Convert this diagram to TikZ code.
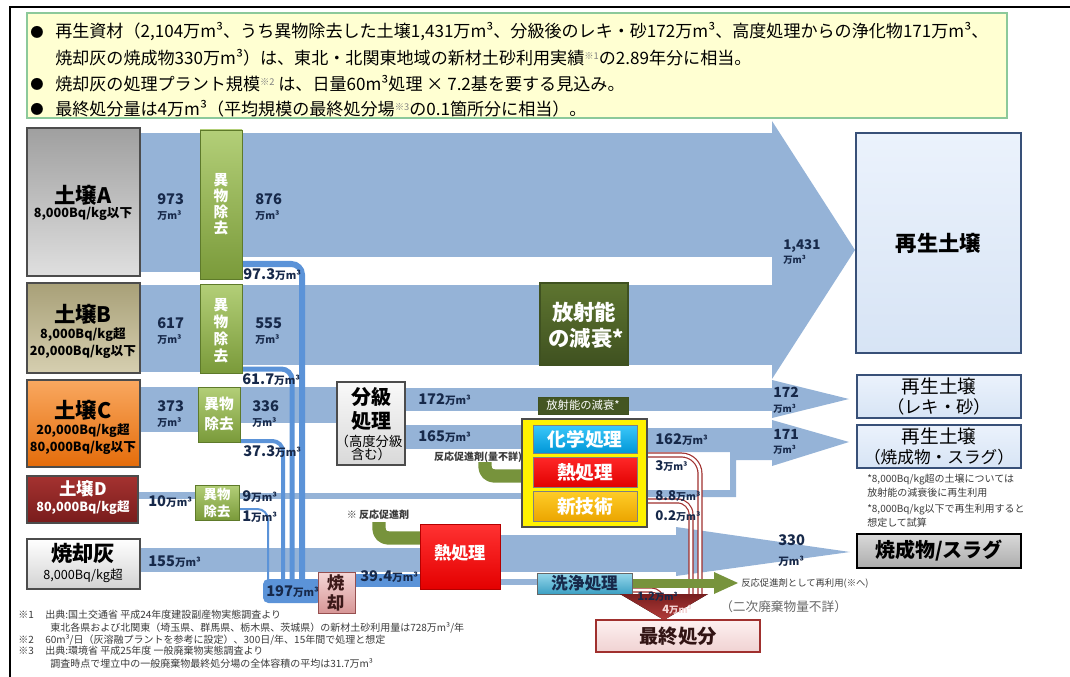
\documentclass[tikz,border=0pt]{standalone}
\usepackage{fontspec}
\setmainfont{Noto Sans CJK JP}
\usetikzlibrary{fit}
\definecolor{flow}{HTML}{95B3D7}
\definecolor{flowd}{HTML}{5B93D8}
\definecolor{navy}{HTML}{17294A}
\definecolor{grnL}{HTML}{B3CF78}
\definecolor{grnD}{HTML}{7A9A3A}
\definecolor{grnB}{HTML}{5E7A2A}
\definecolor{reag}{HTML}{77933C}
\definecolor{oliveL}{HTML}{5E7530}
\definecolor{oliveD}{HTML}{3F5120}
\definecolor{dred}{HTML}{A0302E}
\definecolor{infoY}{HTML}{FFFFD2}
\definecolor{infoB}{HTML}{8CC99A}
\definecolor{notegray}{HTML}{3A3A3A}
\definecolor{outB}{HTML}{385078}
\newcommand{\fs}[1]{\fontsize{#1}{#1}\selectfont}
\newcommand{\sref}[1]{\raisebox{0.55ex}{\fs{7}\color{gray}#1}}
\newcommand{\um}[1]{{\fs{#1}万m³}}
\begin{document}
\begin{tikzpicture}[x=0.75pt,y=-0.75pt,
  box/.style={inner sep=0pt},
  txt/.style={inner sep=0pt},
  band/.style={fill=flow},
  vl/.style={draw=flowd, rounded corners=8},
  gbox/.style={box, draw=grnB, line width=0.6pt, top color=grnL, bottom color=grnD},
  gt/.style={txt, text=white, font=\fs{11}\bfseries},
  srcb/.style={box, draw=gray!60!black, line width=0.8pt},
  num/.style={anchor=west, inner sep=0pt, text=navy, font=\bfseries},
  stk/.style={anchor=west, inner sep=0pt, text=navy, align=left, font=\bfseries},
  reagent/.style={draw=reag, line join=round, rounded corners=7},
  redl/.style={draw=dred, double=white, line width=0.9pt, double distance=2pt},
  note/.style={anchor=west, inner sep=0pt, text=notegray, font=\fs{7.5}},
  info/.style={anchor=west, inner sep=0pt, font=\fs{12.8}},
  outb/.style={box, draw=outB, line width=1.5pt, top color={rgb,255:red,235;green,242;blue,252}, bottom color={rgb,255:red,215;green,228;blue,245}},
]
\useasboundingbox (0,0) rectangle (1070,677);
\draw[line width=2.2pt] (1070,7) -- (10,7) -- (10,677);

% ---------- info box
\node[box, fit={(27,13)(1007,118)}, draw=infoB, fill=infoY, line width=0.8pt] (info) {};
\node[txt, font=\fs{10}] (b1) at (37,32) {●};
\node[info] (t1) at (55,32) {再生資材（2,104万m³、うち異物除去した土壌1,431万m³、分級後のレキ・砂172万m³、高度処理からの浄化物171万m³、};
\node[info] (t2) at (55,58) {焼却灰の焼成物330万m³）は、東北・北関東地域の新材土砂利用実績\sref{※1}の2.89年分に相当。};
\node[txt, font=\fs{10}] (b3) at (37,84) {●};
\node[info] (t3) at (55,84) {焼却灰の処理プラント規模\sref{※2} は、日量60m³処理 × 7.2基を要する見込み。};
\node[txt, font=\fs{10}] (b4) at (37,109) {●};
\node[info] (t4) at (55,109) {最終処分量は4万m³（平均規模の最終処分場\sref{※3}の0.1箇所分に相当）。};

% ---------- bands
\fill[band] (140,133) rectangle (200,272);
\fill[band] (242,133) rectangle (772,257);
\fill[band] (140,285) rectangle (200,372);
\fill[band] (242,285) rectangle (772,365);
\fill[band] (772,121) -- (855,250) -- (772,379) -- cycle;
\fill[band] (140,387) rectangle (198,432);
\fill[band] (240,387) rectangle (337,423);
\fill[band] (405,388) rectangle (772,411);
\fill[band] (772,380) -- (849,399) -- (772,418) -- cycle;
\fill[band] (405,425) rectangle (523,449);
\fill[band] (647,428) -- (772,428) -- (772,460) -- (736,460) -- (736,497) -- (647,497) -- (647,490) -- (730,490) -- (730,452) -- (647,452) -- cycle;
\fill[band] (772,420) -- (849,442) -- (772,466) -- cycle;
\fill[band] (138,492) rectangle (195,499);
\fill[band] (239,493) rectangle (523,499);
\fill[band] (140,548) rectangle (420,572);
\fill[band] (500,535) rectangle (676,572);
\fill[band] (676,527) -- (850,552) -- (676,576) -- cycle;
\fill[band] (500,579) rectangle (537,585);

% ---------- removed-matter lines
\draw[vl, line width=4.5pt] (242,264) -- (302,264) -- (302,582);
\draw[vl, line width=3.75pt] (242,369) -- (292,369) -- (292,582);
\draw[vl, line width=3pt] (240,441) -- (283,441) -- (283,582);
\draw[vl, line width=1.5pt] (239,509) -- (268,509) -- (268,582);
\node[box, fit={(263,579)(322,603)}, fill=flowd, rounded corners=4] (b197) {};
\fill[flowd] (352,574) rectangle (420,587);

% ---------- reagents, residues
\draw[reagent, line width=10pt] (485,462) -- (485,476) -- (524,476);
\draw[reagent, line width=10pt] (379,522) -- (379,538) -- (421,538);
\draw[redl, rounded corners=14] (647,455) -- (700,455) -- (700,596);
\draw[redl, rounded corners=10] (647,501) -- (691,501) -- (691,596);
\draw[redl, rounded corners=8] (632,590) -- (662,590) -- (662,598);
\fill[reag] (632,579) rectangle (716,588);
\fill[reag] (714,572) -- (738,583) -- (714,594) -- cycle;

% ---------- sources
\node[srcb, fit={(27,128)(140,276)}, top color=gray!75, bottom color=gray!25] (sA) {};
\node[txt, font=\fs{16}\bfseries] (sA1) at (83,195) {土壌A};
\node[txt, font=\fs{9.5}\bfseries] (sA2) at (83,214) {8,000Bq/kg以下};
\node[srcb, fit={(27,283)(140,373)}, top color={rgb,255:red,168;green,160;blue,120}, bottom color={rgb,255:red,214;green,207;blue,176}] (sB) {};
\node[txt, font=\fs{16}\bfseries] (sB1) at (83,314) {土壌B};
\node[txt, font=\fs{9.5}\bfseries] (sB2) at (83,335) {8,000Bq/kg超};
\node[txt, font=\fs{9.5}\bfseries] (sB3) at (83,352) {20,000Bq/kg以下};
\node[srcb, fit={(27,380)(140,467)}, top color={rgb,255:red,249;green,168;blue,96}, bottom color={rgb,255:red,228;green,108;blue,10}] (sC) {};
\node[txt, font=\fs{16}\bfseries] (sC1) at (83,410) {土壌C};
\node[txt, font=\fs{9.5}\bfseries] (sC2) at (83,431) {20,000Bq/kg超};
\node[txt, font=\fs{9.5}\bfseries] (sC3) at (83,448) {80,000Bq/kg以下};
\node[srcb, fit={(27,476)(138,523)}, top color={rgb,255:red,165;green,50;blue,48}, bottom color={rgb,255:red,120;green,28;blue,28}] (sD) {};
\node[txt, text=white, font=\fs{13}\bfseries] (sD1) at (83,489) {土壌D};
\node[txt, text=white, font=\fs{9.5}\bfseries] (sD2) at (83,508) {80,000Bq/kg超};
\node[srcb, fit={(27,539)(140,589)}, top color=white, bottom color=gray!35] (sE) {};
\node[txt, font=\fs{16}\bfseries] (sE1) at (83,553) {焼却灰};
\node[txt, font=\fs{9.5}] (sE2) at (83,576) {8,000Bq/kg超};

% ---------- foreign-matter removal
\node[gbox, fit={(200,130)(242,279)}] (gA) {};
\node[gt] (gA1) at (221,180) {異};
\node[gt] (gA2) at (221,196) {物};
\node[gt] (gA3) at (221,212) {除};
\node[gt] (gA4) at (221,228) {去};
\node[gbox, fit={(200,284)(242,373)}] (gB) {};
\node[gt] (gB1) at (221,305) {異};
\node[gt] (gB2) at (221,322) {物};
\node[gt] (gB3) at (221,339) {除};
\node[gt] (gB4) at (221,356) {去};
\node[gbox, fit={(198,387)(240,442)}] (gC) {};
\node[gt] (gC1) at (219,404) {異物};
\node[gt] (gC2) at (219,424) {除去};
\node[gbox, fit={(195,485)(239,520)}] (gD) {};
\node[gt, font=\fs{10}\bfseries] (gD1) at (217,494) {異物};
\node[gt, font=\fs{10}\bfseries] (gD2) at (217,511) {除去};

% ---------- processes
\node[srcb, fit={(337,382)(405,465)}, top color=gray!5, bottom color=gray!30] (cls) {};
\node[txt, font=\fs{15}\bfseries] (cls1) at (371,397) {分級};
\node[txt, font=\fs{15}\bfseries] (cls2) at (371,421) {処理};
\node[txt, font=\fs{10}] (cls3) at (369,441) {（高度分級};
\node[txt, font=\fs{10}] (cls4) at (371,454) {含む）};
\node[box, fit={(540,283)(628,365)}, draw=oliveD, line width=0.8pt, top color=oliveL, bottom color=oliveD] (decay) {};
\node[txt, text=white, font=\fs{16}\bfseries] (decay1) at (584,312) {放射能};
\node[txt, text=white, font=\fs{16}\bfseries] (decay2) at (586,338) {の減衰*};
\node[box, fit={(538,397)(628,414)}, draw=oliveD, fill=oliveD!85!oliveL] (decayS) {};
\node[txt, text=white, font=\fs{8.5}] (decayS1) at (decayS) {放射能の減衰*};
\node[box, fit={(522,419)(647,527)}, fill=yellow, draw=black!70, line width=1pt] (ybox) {};
\node[box, fit={(533,425)(637,453)}, draw=black!50, top color={rgb,255:red,60;green,200;blue,250}, bottom color={rgb,255:red,0;green,150;blue,215}] (chem) {};
\node[txt, text=white, font=\fs{14}\bfseries] (chemT) at (chem) {化学処理};
\node[box, fit={(533,457)(637,487)}, draw=black!50, top color={rgb,255:red,255;green,40;blue,40}, bottom color={rgb,255:red,225;green,0;blue,0}] (heat1) {};
\node[txt, text=white, font=\fs{14}\bfseries] (heat1T) at (heat1) {熱処理};
\node[box, fit={(533,491)(637,521)}, draw=black!50, top color={rgb,255:red,255;green,205;blue,40}, bottom color={rgb,255:red,235;green,165;blue,0}] (newt) {};
\node[txt, text=white, font=\fs{14}\bfseries] (newtT) at (newt) {新技術};
\node[box, fit={(420,524)(500,589)}, draw={rgb,255:red,180;green,0;blue,0}, top color={rgb,255:red,255;green,50;blue,50}, bottom color={rgb,255:red,228;green,0;blue,0}] (heat2) {};
\node[txt, text=white, font=\fs{13}\bfseries] (heat2T) at (460,553) {熱処理};
\node[box, fit={(318,572)(355,613)}, draw={rgb,255:red,150;green,80;blue,80}, top color={rgb,255:red,245;green,215;blue,215}, bottom color={rgb,255:red,215;green,150;blue,150}] (inc) {};
\node[txt, text={rgb,255:red,60;green,25;blue,25}, font=\fs{13}\bfseries] (inc1) at (336.5,583) {焼};
\node[txt, text={rgb,255:red,60;green,25;blue,25}, font=\fs{13}\bfseries] (inc2) at (336.5,603) {却};
\node[box, fit={(537,573)(632,594)}, draw=black!60, top color={rgb,255:red,150;green,215;blue,235}, bottom color={rgb,255:red,60;green,160;blue,195}] (wash) {};
\node[txt, text=navy, font=\fs{12.5}\bfseries] (washT) at (wash) {洗浄処理};

% ---------- final disposal
\fill[top color={rgb,255:red,120;green,30;blue,30}, bottom color={rgb,255:red,180;green,60;blue,58}] (620,594) -- (708,594) -- (664,620) -- cycle;
\node[box, fit={(596,620)(760,652)}, draw=dred, line width=1.5pt, top color={rgb,255:red,253;green,240;blue,240}, bottom color={rgb,255:red,240;green,210;blue,210}] (fin) {};
\node[txt, text={rgb,255:red,50;green,20;blue,20}, font=\fs{14.5}\bfseries] (finT) at (678,636) {最終処分};

% ---------- outputs
\node[outb, fit={(856,133)(1021,353)}] (o1) {};
\node[txt, font=\fs{16}\bfseries] (o1T) at (o1) {再生土壌};
\node[outb, fit={(857,375)(1021,418)}] (o2) {};
\node[txt, font=\fs{14}] (o2a) at (939,386) {再生土壌};
\node[txt, font=\fs{13}] (o2b) at (939,407) {（レキ・砂）};
\node[outb, fit={(857,425)(1021,468)}] (o3) {};
\node[txt, font=\fs{14}] (o3a) at (939,436) {再生土壌};
\node[txt, font=\fs{12.5}] (o3b) at (939,457) {（焼成物・スラグ）};
\node[box, fit={(857,534)(1021,568)}, draw=black, line width=1.5pt, top color=gray!30, bottom color=gray!65] (o4) {};
\node[txt, font=\fs{15}\bfseries] (o4T) at (o4) {焼成物/スラグ};
\node[note] (n1) at (867,480) {*8,000Bq/kg超の土壌については};
\node[note] (n2) at (867,493) {放射能の減衰後に再生利用};
\node[note] (n3) at (867,510) {*8,000Bq/kg以下で再生利用すると};
\node[note] (n4) at (867,523) {想定して試算};

% ---------- quantity labels
\node[stk] (q973) at (157,207) {\fs{11}973\\[-1pt]\um{7.5}};
\node[stk] (q876) at (255,207) {\fs{11}876\\[-1pt]\um{7.5}};
\node[stk] (q617) at (157,331) {\fs{11}617\\[-1pt]\um{7.5}};
\node[stk] (q555) at (255,331) {\fs{11}555\\[-1pt]\um{7.5}};
\node[stk] (q373) at (157,414) {\fs{11}373\\[-1pt]\um{7.5}};
\node[stk] (q336) at (252,414) {\fs{11}336\\[-1pt]\um{7.5}};
\node[stk] (q1431) at (783,252) {\fs{10}1,431\\[-1pt]\um{7}};
\node[stk] (q172b) at (773,400) {\fs{10.5}172\\[-1pt]\um{7}};
\node[stk] (q171) at (773,442) {\fs{10.5}171\\[-1pt]\um{7}};
\node[stk] (q330) at (778,551) {\fs{11}330\\[3pt]\um{8}};
\node[num] (q973r) at (243,275) {\fs{11}97.3\um{8}};
\node[num] (q617r) at (242,380) {\fs{11}61.7\um{8}};
\node[num] (q373r) at (243,452) {\fs{11}37.3\um{8}};
\node[num] (q10) at (148,502) {\fs{11}10\um{8}};
\node[num] (q9) at (242,497) {\fs{11}9\um{8}};
\node[num] (q1) at (242,517) {\fs{11}1\um{8}};
\node[num] (q155) at (148,562) {\fs{11}155\um{8}};
\node[num] (q197) at (266,592) {\fs{11}197\um{8}};
\node[num] (q394) at (360,577) {\fs{11}39.4\um{8}};
\node[num] (q172) at (418,400) {\fs{11}172\um{8}};
\node[num] (q165) at (418,437) {\fs{11}165\um{8}};
\node[num] (q162) at (655,440) {\fs{11}162\um{8}};
\node[num] (q3) at (655,466) {\fs{10}3\um{7.5}};
\node[num] (q88) at (655,496) {\fs{10}8.8\um{7.5}};
\node[num] (q02) at (655,516) {\fs{10}0.2\um{7.5}};
\node[num] (q12) at (637,597) {\fs{8.5}1.2\um{7}};
\node[num, text={rgb,255:red,245;green,215;blue,215}] (q4) at (662,610) {\fs{8.5}4\um{7}};

% ---------- small texts
\node[txt, font=\fs{7.5}\bfseries, text=notegray] (r1) at (478,457) {反応促進剤(量不詳)};
\node[txt, font=\fs{7.5}\bfseries, text=notegray] (r2) at (378,515) {※ 反応促進剤};
\node[anchor=west, inner sep=0pt, font=\fs{7}, text=notegray] (r3) at (741,583) {反応促進剤として再利用(※へ)};
\node[anchor=west, inner sep=0pt, font=\fs{9.5}, text=gray!80!black] (r4) at (720,607) {（二次廃棄物量不詳）};

% ---------- footnotes
\node[note] (f1a) at (18,615) {※1};
\node[note] (f1) at (45,615) {出典:国土交通省 平成24年度建設副産物実態調査より};
\node[note] (f1b) at (50,628) {東北各県および北関東（埼玉県、群馬県、栃木県、茨城県）の新材土砂利用量は728万m³/年};
\node[note] (f2a) at (18,640) {※2};
\node[note] (f2) at (45,640) {60m³/日（灰溶融プラントを参考に設定）、300日/年、15年間で処理と想定};
\node[note] (f3a) at (18,651) {※3};
\node[note] (f3) at (45,651) {出典:環境省 平成25年度 一般廃棄物実態調査より};
\node[note] (f3b) at (50,663) {調査時点で埋立中の一般廃棄物最終処分場の全体容積の平均は31.7万m³};
\end{tikzpicture}
\end{document}
